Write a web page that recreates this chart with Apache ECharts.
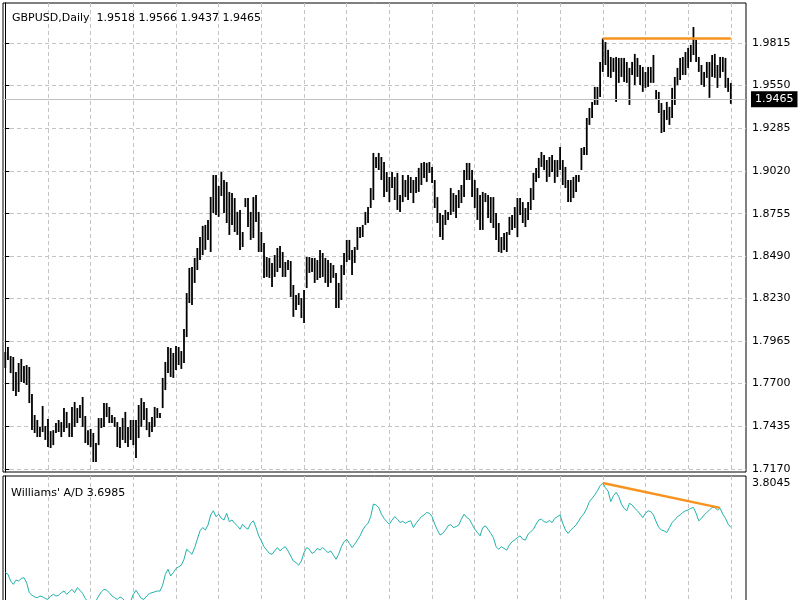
<!DOCTYPE html>
<html>
<head>
<meta charset="utf-8">
<script src="https://cdn.jsdelivr.net/npm/echarts@6/dist/echarts.min.js"></script>
<style>
  html, body { margin:0; padding:0; background:#fff; overflow:hidden; }
  #chart { width:800px; height:640px; }
</style>
</head>
<body>
<div id="chart"></div>
<script>
// last bar: open, high, low, close
let lastBar = [1.9518, 1.9566, 1.9437, 1.9465];

let highs = [
    1.7896,1.7927,1.7871,1.7865,1.7772,1.7828,1.7853,1.7809,1.7815,1.7803,1.7635,1.7505,1.7474,1.7431,1.7561,1.7437,
    1.7480,1.7405,1.7411,1.7455,1.7474,1.7461,1.7548,1.7524,1.7455,1.7555,1.7586,1.7548,1.7567,1.7617,1.7499,1.7411,
    1.7418,1.7393,1.7331,1.7486,1.7486,1.7579,1.7579,1.7555,1.7505,1.7492,1.7461,1.7431,1.7486,1.7524,1.7431,1.7474,
    1.7474,1.7474,1.7567,1.7610,1.7586,1.7548,1.7461,1.7492,1.7555,1.7548,1.7517,1.7735,1.7834,1.7927,1.7921,1.7890,
    1.7933,1.7927,1.7902,1.8039,1.8262,1.8418,1.8424,1.8480,1.8542,1.8610,1.8679,1.8685,1.8716,1.8859,1.8995,1.8995,
    1.8927,1.9014,1.8964,1.8952,1.8890,1.8883,1.8852,1.8766,1.8778,1.8641,1.8852,1.8852,1.8766,1.8858,1.8871,1.8766,
    1.8641,1.8573,1.8486,1.8480,1.8449,1.8498,1.8542,1.8554,1.8517,1.8455,1.8467,1.8461,1.8312,1.8250,1.8262,1.8231,
    1.8281,1.8486,1.8486,1.8480,1.8480,1.8467,1.8530,1.8511,1.8480,1.8467,1.8449,1.8436,1.8387,1.8325,1.8436,1.8511,
    1.8592,1.8592,1.8530,1.8548,1.8672,1.8672,1.8685,1.8766,1.8796,1.8914,1.9132,1.9107,1.9132,1.9107,1.9076,1.9014,
    1.8983,1.9014,1.8983,1.9008,1.8871,1.8995,1.8964,1.8995,1.8983,1.8964,1.8983,1.9039,1.9070,1.9076,1.9070,1.9076,
    1.9045,1.8964,1.8858,1.8759,1.8747,1.8778,1.8766,1.8914,1.8883,1.8871,1.8902,1.8933,1.9026,1.9070,1.9070,1.9026,
    1.8964,1.8914,1.8871,1.8890,1.8883,1.8871,1.8858,1.8858,1.8759,1.8697,1.8610,1.8635,1.8641,1.8735,1.8747,1.8796,
    1.8852,1.8852,1.8827,1.8790,1.8827,1.8914,1.9008,1.9039,1.9101,1.9138,1.9119,1.9088,1.9107,1.9119,1.9088,1.9088,
    1.9169,1.9088,1.9045,1.8964,1.8964,1.8983,1.8995,1.8995,1.9163,1.9169,1.9349,1.9411,1.9449,1.9542,1.9542,1.9697,
    1.9843,1.9821,1.9772,1.9728,1.9722,1.9728,1.9722,1.9722,1.9722,1.9697,1.9660,1.9697,1.9747,1.9722,1.9678,1.9666,
    1.9635,1.9666,1.9666,1.9740,1.9523,1.9511,1.9442,1.9399,1.9449,1.9418,1.9536,1.9604,1.9660,1.9722,1.9728,1.9759,
    1.9784,1.9803,1.9914,1.9834,1.9728,1.9678,1.9635,1.9697,1.9697,1.9740,1.9747,1.9678,1.9728,1.9728,1.9722,1.9598,1.9566
];

let lows = [
    1.7797,1.7846,1.7765,1.7654,1.7623,1.7648,1.7710,1.7704,1.7691,1.7579,1.7412,1.7393,1.7368,1.7368,1.7399,1.7350,
    1.7306,1.7300,1.7318,1.7393,1.7399,1.7368,1.7399,1.7424,1.7368,1.7368,1.7431,1.7455,1.7486,1.7431,1.7331,1.7318,
    1.7306,1.7213,1.7213,1.7318,1.7424,1.7431,1.7492,1.7455,1.7455,1.7431,1.7306,1.7300,1.7350,1.7331,1.7306,1.7350,
    1.7318,1.7238,1.7362,1.7431,1.7474,1.7411,1.7368,1.7399,1.7431,1.7486,1.7486,1.7548,1.7660,1.7765,1.7741,1.7735,
    1.7784,1.7815,1.7791,1.7828,1.7989,1.8200,1.8188,1.8325,1.8405,1.8467,1.8498,1.8530,1.8592,1.8517,1.8759,1.8747,
    1.8735,1.8865,1.8759,1.8697,1.8623,1.8685,1.8641,1.8623,1.8530,1.8548,1.8796,1.8672,1.8592,1.8604,1.8703,1.8517,
    1.8517,1.8356,1.8362,1.8356,1.8300,1.8362,1.8393,1.8418,1.8362,1.8362,1.8405,1.8238,1.8114,1.8157,1.8188,1.8107,
    1.8076,1.8293,1.8387,1.8393,1.8325,1.8343,1.8356,1.8362,1.8325,1.8300,1.8325,1.8356,1.8169,1.8169,1.8219,1.8374,
    1.8455,1.8467,1.8374,1.8449,1.8530,1.8604,1.8610,1.8685,1.8697,1.8790,1.8840,1.9039,1.9026,1.8964,1.8858,1.8890,
    1.8827,1.8914,1.8840,1.8778,1.8766,1.8827,1.8858,1.8840,1.8883,1.8821,1.8883,1.8890,1.8933,1.8976,1.8952,1.9008,
    1.8946,1.8790,1.8697,1.8610,1.8592,1.8685,1.8716,1.8747,1.8766,1.8728,1.8790,1.8821,1.8858,1.8964,1.8964,1.8858,
    1.8790,1.8716,1.8654,1.8654,1.8827,1.8728,1.8697,1.8666,1.8592,1.8517,1.8511,1.8530,1.8517,1.8623,1.8654,1.8666,
    1.8610,1.8747,1.8697,1.8672,1.8716,1.8778,1.8840,1.8952,1.8976,1.9045,1.9026,1.8952,1.8983,1.9014,1.8946,1.8983,
    1.9026,1.8933,1.8914,1.8827,1.8827,1.8852,1.8890,1.8952,1.9026,1.9119,1.9119,1.9306,1.9349,1.9430,1.9430,1.9480,
    1.9635,1.9678,1.9604,1.9598,1.9635,1.9449,1.9567,1.9604,1.9573,1.9567,1.9430,1.9616,1.9554,1.9604,1.9554,1.9511,
    1.9536,1.9542,1.9567,1.9567,1.9461,1.9380,1.9256,1.9262,1.9337,1.9306,1.9349,1.9430,1.9554,1.9585,1.9616,1.9616,
    1.9660,1.9697,1.9740,1.9697,1.9635,1.9554,1.9542,1.9598,1.9474,1.9604,1.9598,1.9536,1.9598,1.9635,1.9536,1.9511,1.9437
];

// Williams' A/D
let adValues = [
    3.590,3.586,3.570,3.562,3.572,3.570,3.576,3.578,3.566,3.542,3.536,3.532,3.530,3.534,3.532,3.528,
    3.526,3.534,3.538,3.534,3.536,3.542,3.546,3.538,3.544,3.550,3.542,3.554,3.548,3.540,3.528,3.520,
    3.516,3.512,3.522,3.534,3.544,3.550,3.548,3.542,3.534,3.530,3.526,3.532,3.528,3.520,3.518,3.522,
    3.538,3.548,3.538,3.528,3.526,3.534,3.540,3.542,3.544,3.546,3.546,3.560,3.586,3.598,3.582,3.590,
    3.600,3.604,3.608,3.622,3.646,3.640,3.634,3.650,3.670,3.690,3.698,3.692,3.704,3.728,3.738,3.724,
    3.730,3.720,3.716,3.732,3.712,3.716,3.708,3.702,3.694,3.706,3.698,3.694,3.708,3.714,3.698,3.678,
    3.666,3.652,3.644,3.636,3.634,3.642,3.650,3.642,3.648,3.652,3.642,3.630,3.618,3.614,3.608,3.618,
    3.638,3.650,3.646,3.636,3.640,3.648,3.644,3.650,3.644,3.638,3.642,3.632,3.622,3.634,3.652,3.664,
    3.670,3.660,3.650,3.658,3.668,3.678,3.692,3.702,3.708,3.724,3.754,3.752,3.746,3.730,3.720,3.712,
    3.706,3.716,3.724,3.718,3.710,3.713,3.708,3.712,3.714,3.698,3.708,3.716,3.724,3.728,3.734,3.732,
    3.724,3.706,3.692,3.680,3.684,3.692,3.702,3.705,3.698,3.700,3.704,3.718,3.730,3.722,3.718,3.706,
    3.694,3.686,3.678,3.698,3.702,3.694,3.684,3.674,3.652,3.646,3.652,3.648,3.644,3.656,3.664,3.668,
    3.674,3.678,3.670,3.668,3.682,3.688,3.694,3.706,3.716,3.718,3.712,3.710,3.715,3.710,3.720,3.724,
    3.728,3.708,3.692,3.684,3.692,3.698,3.704,3.714,3.724,3.732,3.744,3.760,3.768,3.776,3.786,3.798,
    3.8045,3.793,3.785,3.760,3.774,3.782,3.772,3.754,3.744,3.738,3.756,3.752,3.744,3.738,3.730,3.722,
    3.732,3.738,3.736,3.728,3.712,3.698,3.692,3.690,3.686,3.698,3.710,3.716,3.724,3.728,3.734,3.738,
    3.740,3.744,3.746,3.732,3.714,3.720,3.728,3.734,3.740,3.746,3.746,3.740,3.744,3.730,3.720,3.706,3.6985
];

// trend lines drawn on the chart: [bar index, value]
let resistance = [[224, 1.9843], [272, 1.9843]];
let adTrend = [[224, 3.8045], [268, 3.745]];

let priceTicks = [1.9815,1.9550,1.9285,1.9020,1.8755,1.8490,1.8230,1.7965,1.7700,1.7435,1.7170];
let adTicks = [3.8045];
let gridBars = [0,16,32,48,64,80,96,112,128,144,160,176,192,208,224,240,256,272];

let font = 'DejaVu Sans';
let myChart = echarts.init(document.getElementById('chart'));

let bars = highs.map((h, i) => [i, h, lows[i]]);
let adLine = adValues.map((v, i) => [i, v]);

function renderBar(params, api){
    let top = api.coord([api.value(0), api.value(1)]);
    let bottom = api.coord([api.value(0), api.value(2)]);
    return {
        type:'rect',
        shape:{ x:top[0] - 0.9, y:top[1], width:1.8, height:Math.max(1, bottom[1] - top[1]) },
        style:{ fill:'#000' }
    };
}

let dashed = { show:true, lineStyle:{ color:'#c4c4c4', type:[4,3], width:1 } };

function xAxisFor(gridIndex){
    return {
        type:'value',
        gridIndex,
        min:-0.86,
        max:277.7,
        axisLine:{ show:false },
        axisLabel:{ show:false },
        axisTick:{ show:false, customValues:gridBars },
        splitLine:dashed
    };
}

let option = {
    animation:false,
    backgroundColor:'#fff',
    title:[
        {
            text:'GBPUSD,Daily  ' + lastBar.map(v => v.toFixed(4)).join(' '),
            left:7, top:8,
            textStyle:{ fontFamily:font, fontSize:11, fontWeight:'normal', color:'#000' }
        },
        {
            text:"Williams' A/D " + adValues[adValues.length - 1].toFixed(4),
            left:6, top:483,
            textStyle:{ fontFamily:font, fontSize:11, fontWeight:'normal', color:'#000' }
        }
    ],
    grid:[
        { left:3, right:54, top:3, height:469, show:true, borderColor:'#000', borderWidth:1 },
        { left:3, right:54, top:476, height:150, show:true, borderColor:'#000', borderWidth:1 }
    ],
    xAxis:[ xAxisFor(0), xAxisFor(1) ],
    yAxis:[
        {
            type:'value',
            gridIndex:0,
            position:'right',
            min:1.7151,
            max:2.0063,
            axisLine:{ show:true, lineStyle:{ color:'#000' } },
            axisTick:{ show:true, length:4, customValues:priceTicks, lineStyle:{ color:'#000' } },
            axisLabel:{
                customValues:priceTicks,
                formatter:(v)=>v.toFixed(4),
                color:'#000', fontFamily:font, fontSize:11, margin:6
            },
            splitLine:dashed
        },
        {
            type:'value',
            gridIndex:1,
            position:'right',
            min:3.4623,
            max:3.8213,
            axisLine:{ show:true, lineStyle:{ color:'#000' } },
            axisTick:{ show:false, customValues:adTicks },
            axisLabel:{
                customValues:adTicks,
                formatter:(v)=>v.toFixed(4),
                color:'#000', fontFamily:font, fontSize:11, margin:6
            },
            splitLine:{ show:false }
        }
    ],
    series:[
        {
            type:'custom',
            xAxisIndex:0,
            yAxisIndex:0,
            renderItem:renderBar,
            encode:{ x:0, y:[1,2] },
            clip:true,
            data:bars
        },
        {
            type:'line',
            xAxisIndex:0,
            yAxisIndex:0,
            data:resistance,
            symbol:'none',
            lineStyle:{ color:'#f7931e', width:2.5 },
            z:5,
            markLine:{
                silent:true,
                symbol:'none',
                precision:4,
                lineStyle:{ color:'#c0c0c0', type:'solid', width:1 },
                label:{
                    show:true,
                    position:'end',
                    distance:5,
                    formatter:lastBar[3].toFixed(4),
                    backgroundColor:'#000',
                    color:'#fff',
                    fontFamily:font,
                    fontSize:11,
                    padding:[3,4,2,4]
                },
                data:[{ yAxis:lastBar[3] }]
            }
        },
        {
            type:'line',
            xAxisIndex:1,
            yAxisIndex:1,
            data:adLine,
            symbol:'none',
            lineStyle:{ color:'#20b2aa', width:1 }
        },
        {
            type:'line',
            xAxisIndex:1,
            yAxisIndex:1,
            data:adTrend,
            symbol:'none',
            lineStyle:{ color:'#f7931e', width:2.5 },
            z:5
        }
    ]
};

myChart.setOption(option);
</script>
</body>
</html>
